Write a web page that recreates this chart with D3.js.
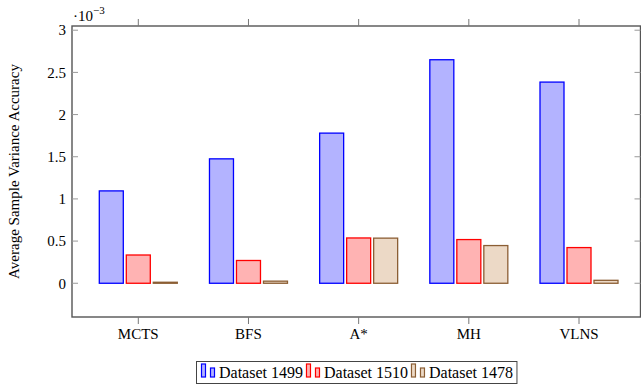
<!DOCTYPE html>
<html>
<head>
<meta charset="utf-8">
<script src="https://cdn.jsdelivr.net/npm/d3@7"></script>
<style>
  body { margin: 0; background: #fff; }
  text { font-family: "Liberation Serif", "Times New Roman", serif; fill: #000; }
</style>
</head>
<body>
<svg id="chart" width="641" height="389"></svg>
<script>
// data (values in units of 1e-3)
var categories = ["MCTS", "BFS", "A*", "MH", "VLNS"];
var seriesNames = ["Dataset 1499", "Dataset 1510", "Dataset 1478"];
var values1499 = [1.095, 1.475, 1.78, 2.65, 2.385];
var values1510 = [0.335, 0.27, 0.537, 0.518, 0.423];
var values1478 = [0.012, 0.025, 0.535, 0.447, 0.035];
var yTicks = [0, 0.5, 1, 1.5, 2, 2.5, 3];

(function() {
    var seriesValues = [values1499, values1510, values1478];
    var fills = ["#b3b3ff", "#ffb3b3", "#ecd9c6"];
    var strokes = ["#0000ff", "#ff0000", "#8b5e34"];

    var svg = d3.select("#chart");
    var mLeft = 72, mRight = 640.5, mTop = 26, mBottom = 317;

    var x = d3.scalePoint().domain(categories).range([138.3, 579]);
    var xSub = d3.scaleBand().domain(seriesNames).range([-40.5, 40.5])
        .paddingInner(1 / 9).paddingOuter(1 / 18);
    var y = d3.scaleLinear().domain([-0.4, 3.05]).range([mBottom, mTop]);

    // bars
    seriesNames.forEach(function(name, k) {
        svg.append("g")
            .attr("class", "data")
            .selectAll("rect")
            .data(seriesValues[k])
            .enter()
            .append("rect")
            .attr("x", function(d, i) { return x(categories[i]) + xSub(name); })
            .attr("width", xSub.bandwidth())
            .attr("y", function(d) { return y(d); })
            .attr("height", function(d) { return y(0) - y(d); })
            .style("fill", fills[k])
            .style("stroke", strokes[k])
            .style("stroke-width", 1.3);
    });

    // frame
    svg.append("rect")
        .attr("x", mLeft).attr("y", mTop)
        .attr("width", mRight - mLeft).attr("height", mBottom - mTop)
        .style("fill", "none").style("stroke", "#555").style("stroke-width", 1.4);

    // y ticks (inside, both sides)
    var yt = svg.append("g");
    yTicks.forEach(function(t) {
        yt.append("line").attr("x1", mLeft).attr("x2", mLeft + 6)
            .attr("y1", y(t)).attr("y2", y(t)).style("stroke", "#999");
        yt.append("line").attr("x1", mRight - 6).attr("x2", mRight)
            .attr("y1", y(t)).attr("y2", y(t)).style("stroke", "#999");
        yt.append("text").attr("x", 66).attr("y", y(t)).attr("dy", "0.35em")
            .attr("text-anchor", "end").style("font-size", "15px")
            .text(d3.format("")(t));
    });

    // x ticks (outside, top and bottom)
    var xt = svg.append("g");
    categories.forEach(function(c) {
        xt.append("line").attr("x1", x(c)).attr("x2", x(c))
            .attr("y1", mBottom).attr("y2", mBottom + 7).style("stroke", "#777");
        xt.append("line").attr("x1", x(c)).attr("x2", x(c))
            .attr("y1", mTop).attr("y2", mTop - 7).style("stroke", "#777");
        xt.append("text").attr("x", x(c)).attr("y", 339)
            .attr("text-anchor", "middle").style("font-size", "15px")
            .text(c);
    });

    // scale factor label
    var sf = svg.append("text").attr("x", 73).attr("y", 21).style("font-size", "15px");
    sf.append("tspan").text("\u00b710");
    sf.append("tspan").attr("dy", -7).style("font-size", "11px").text("\u22123");

    // y axis label
    svg.append("text")
        .attr("transform", "translate(19," + ((mTop + mBottom) / 2) + ") rotate(-90)")
        .attr("text-anchor", "middle").style("font-size", "15px")
        .text("Average Sample Variance Accuracy");

    // legend
    var legend = svg.append("g");
    var lx = 201;
    seriesNames.forEach(function(name, k) {
        var g = legend.append("g");
        g.append("rect").attr("x", lx + 0.5).attr("y", 364).attr("width", 4).attr("height", 13)
            .style("fill", fills[k]).style("stroke", strokes[k]).style("stroke-width", 1.2);
        g.append("rect").attr("x", lx + 9.5).attr("y", 368).attr("width", 4).attr("height", 9)
            .style("fill", fills[k]).style("stroke", strokes[k]).style("stroke-width", 1.2);
        var t = g.append("text").attr("x", lx + 18).attr("y", 378)
            .style("font-size", "16px").text(name);
        lx = lx + 18 + t.node().getComputedTextLength() + 3;
    });
    legend.insert("rect", ":first-child")
        .attr("x", 196.5).attr("y", 361.5)
        .attr("width", lx - 196.5 + 1).attr("height", 22)
        .style("fill", "#fff").style("stroke", "#444").style("stroke-width", 1);
})();
</script>
</body>
</html>
